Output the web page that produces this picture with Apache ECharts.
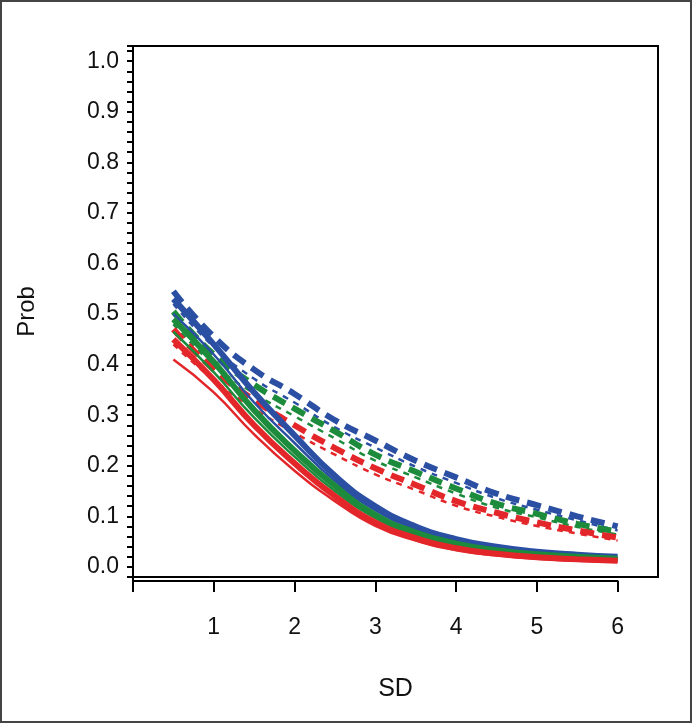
<!DOCTYPE html>
<html>
<head>
<meta charset="utf-8">
<script src="https://cdn.jsdelivr.net/npm/echarts@6/dist/echarts.min.js"></script>
<style>
  html, body { margin: 0; padding: 0; background: #fff; }
  #chart { width: 693px; height: 724px; }
</style>
</head>
<body>
<div id="chart"></div>
<script>
const sd = [0.5, 1, 1.5, 2, 2.5, 3, 3.5, 4, 4.5, 5, 5.5, 6]
const xTicks = ['', '1', '2', '3', '4', '5', '6']

// steep curves (solid bands)
const blueSolid = [0.53, 0.44, 0.345, 0.26, 0.18, 0.12, 0.08, 0.055, 0.04, 0.03, 0.024, 0.02]
const blueSolidLo = [0.50, 0.42, 0.325, 0.245, 0.17, 0.112, 0.075, 0.05, 0.036, 0.027, 0.021, 0.017]
const greenSolid = [0.49, 0.405, 0.31, 0.23, 0.16, 0.103, 0.068, 0.046, 0.033, 0.025, 0.02, 0.016]
const greenSolidLo = [0.465, 0.385, 0.295, 0.218, 0.15, 0.097, 0.063, 0.042, 0.03, 0.022, 0.017, 0.014]
const redSolid = [0.45, 0.37, 0.28, 0.205, 0.14, 0.088, 0.057, 0.037, 0.026, 0.019, 0.015, 0.012]
const redSolidLo = [0.41, 0.345, 0.262, 0.19, 0.13, 0.081, 0.052, 0.033, 0.023, 0.016, 0.012, 0.010]

// shallow curves (dashed bands)
const blueDash = [0.545, 0.455, 0.39, 0.342, 0.29, 0.25, 0.21, 0.177, 0.145, 0.122, 0.10, 0.08]
const blueDashLo = [0.52, 0.435, 0.372, 0.325, 0.276, 0.236, 0.198, 0.166, 0.136, 0.113, 0.092, 0.072]
const greenDash = [0.505, 0.42, 0.36, 0.313, 0.268, 0.222, 0.188, 0.155, 0.125, 0.105, 0.085, 0.07]
const greenDashLo = [0.48, 0.40, 0.343, 0.298, 0.254, 0.21, 0.177, 0.145, 0.117, 0.098, 0.079, 0.064]
const redDash = [0.47, 0.39, 0.33, 0.28, 0.235, 0.195, 0.162, 0.13, 0.107, 0.088, 0.072, 0.058]
const redDashLo = [0.44, 0.37, 0.313, 0.265, 0.222, 0.183, 0.152, 0.121, 0.099, 0.081, 0.066, 0.052]

const BLUE = '#2a4fa3'
const GREEN = '#1d8b3c'
const RED = '#e3262a'
const FONT = 'Liberation Sans, Arial, sans-serif'

function pts(ys) {
  return sd.map((x, i) => [x, ys[i]])
}

function line(ys, color, width, type) {
  return {
    type: 'line',
    xAxisIndex: 0,
    yAxisIndex: 0,
    data: pts(ys),
    smooth: true,
    showSymbol: false,
    silent: true,
    lineStyle: { color: color, width: width, type: type || 'solid' }
  }
}

const chart = echarts.init(document.getElementById('chart'))

chart.setOption({
  animation: false,
  backgroundColor: '#fff',
  textStyle: { fontFamily: FONT },
  graphic: [
    {
      type: 'rect',
      shape: { x: 1, y: 1, width: 690, height: 721 },
      style: { fill: 'none', stroke: '#444', lineWidth: 2 }
    }
  ],
  grid: [
    { left: 133, top: 46, width: 525, height: 531, show: true, borderColor: '#000', borderWidth: 2, backgroundColor: 'transparent' },
    { left: 133, top: 46, width: 484.6, height: 535 }
  ],
  xAxis: [
    {
      gridIndex: 0,
      type: 'value',
      min: 0,
      max: 6.5,
      name: 'SD',
      nameLocation: 'middle',
      nameGap: 100,
      nameTextStyle: { fontSize: 25, color: '#111', fontFamily: FONT },
      axisLine: { show: false },
      axisTick: { show: false },
      axisLabel: { show: false },
      splitLine: { show: false }
    },
    {
      gridIndex: 1,
      type: 'value',
      min: 0,
      max: 6,
      interval: 1,
      axisLine: { show: true, onZero: false, lineStyle: { color: '#000', width: 2 } },
      axisTick: { show: true, length: 11, lineStyle: { color: '#000', width: 2 } },
      axisLabel: {
        fontSize: 23,
        color: '#111',
        margin: 35,
        fontFamily: FONT,
        formatter: v => xTicks[Math.round(v)]
      },
      splitLine: { show: false }
    }
  ],
  yAxis: [
    {
      gridIndex: 0,
      type: 'value',
      min: -0.02,
      max: 1.03,
      interval: 0.02,
      name: 'Prob',
      nameLocation: 'middle',
      nameRotate: 90,
      nameGap: 94,
      nameTextStyle: { fontSize: 24, color: '#111', fontFamily: FONT },
      axisLine: { show: true, lineStyle: { color: '#000', width: 2 } },
      axisTick: { show: true, length: 6, lineStyle: { color: '#000', width: 2 } },
      axisLabel: {
        fontSize: 23,
        color: '#111',
        margin: 14,
        fontFamily: FONT,
        formatter: v => {
          const t = v * 10
          if (v < -0.001 || Math.abs(t - Math.round(t)) > 1e-6) return ''
          return (Math.round(t) / 10).toFixed(1)
        }
      },
      splitLine: { show: false }
    },
    {
      gridIndex: 1,
      type: 'value',
      min: 0,
      max: 1,
      axisLine: { show: true, onZero: false, lineStyle: { color: '#000', width: 2 } },
      axisTick: { show: false },
      axisLabel: { show: false },
      splitLine: { show: false }
    }
  ],
  series: [
    line(blueDash, BLUE, 6, [14, 8]),
    line(blueDashLo, BLUE, 2.5, [6, 6]),
    line(greenDash, GREEN, 6, [14, 8]),
    line(greenDashLo, GREEN, 2.5, [6, 6]),
    line(redDash, RED, 6, [14, 8]),
    line(redDashLo, RED, 2.5, [6, 6]),
    line(blueSolid, BLUE, 6),
    line(blueSolidLo, BLUE, 2.5),
    line(greenSolid, GREEN, 6),
    line(greenSolidLo, GREEN, 2.5),
    line(redSolid, RED, 6),
    line(redSolidLo, RED, 2.5)
  ]
})
</script>
</body>
</html>
